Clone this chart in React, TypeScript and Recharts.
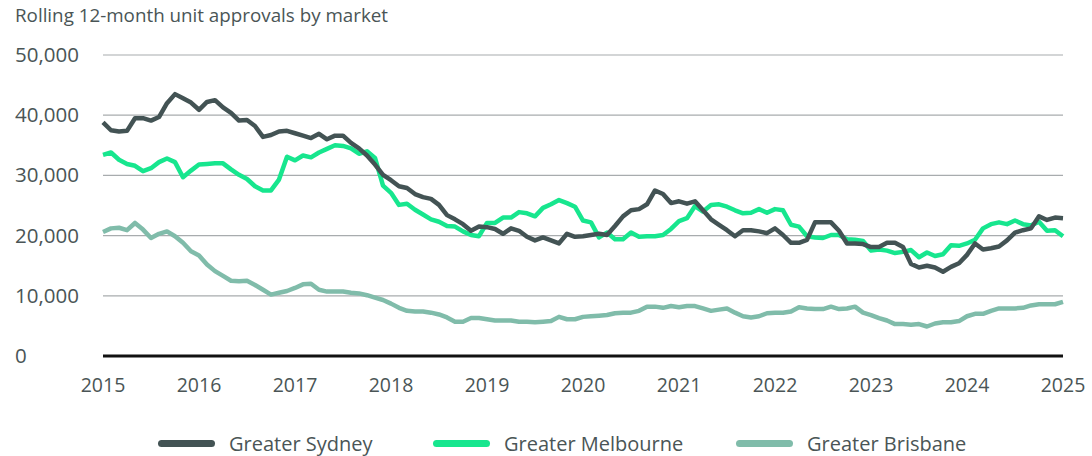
import React from "react";
import { LineChart, Line, XAxis, YAxis, CartesianGrid } from "recharts";

const startYear = 2015;
const yearTicks = [2015, 2016, 2017, 2018, 2019, 2020, 2021, 2022, 2023, 2024, 2025];
const valueTicks = [0, 10000, 20000, 30000, 40000, 50000];

const sydney = [
  38800, 37500, 37300, 37400, 39500, 39500, 39100, 39700, 42000, 43500, 42800, 42100,
  40900, 42200, 42500, 41300, 40400, 39100, 39200, 38200, 36400, 36700, 37300, 37400,
  37000, 36600, 36200, 36900, 36000, 36600, 36600, 35400, 34500, 33300, 31800, 30100,
  29200, 28200, 27900, 26900, 26400, 26100, 25100, 23400, 22700, 21900, 20800, 21500,
  21400, 21100, 20300, 21200, 20800, 19800, 19200, 19700, 19200, 18700, 20300, 19800,
  19900, 20100, 20300, 20100, 21600, 23200, 24200, 24400, 25200, 27500, 26900, 25400,
  25700, 25300, 25700, 24200, 22700, 21800, 20900, 19900, 20900, 20900, 20700, 20400,
  21200, 20100, 18800, 18800, 19300, 22200, 22200, 22200, 20800, 18700, 18700, 18600,
  18100, 18100, 18800, 18800, 18100, 15300, 14700, 15000, 14700, 14000, 14800, 15400,
  16800, 18700, 17700, 17900, 18200, 19200, 20500, 20900, 21200, 23200, 22600, 23000,
  22900,
];

const melbourne = [
  33400, 33800, 32600, 31900, 31600, 30700, 31200, 32200, 32800, 32200, 29700, 30800,
  31800, 31900, 32000, 32000, 31000, 30100, 29400, 28200, 27500, 27500, 29300, 33100,
  32500, 33300, 33000, 33800, 34400, 35000, 34900, 34500, 33600, 34000, 32900, 28300,
  27100, 25100, 25300, 24300, 23500, 22700, 22300, 21600, 21500, 20700, 20100, 19900,
  22100, 22100, 23000, 23000, 23900, 23700, 23200, 24600, 25200, 25900, 25400, 24800,
  22500, 22200, 19700, 20500, 19400, 19400, 20500, 19800, 19900, 19900, 20100, 21100,
  22400, 22900, 24900, 24000, 25100, 25200, 24800, 24200, 23700, 23800, 24400, 23800,
  24400, 24200, 21800, 21500, 19900, 19700, 19600, 20100, 20100, 19400, 19300, 19100,
  17500, 17700, 17500, 17100, 17300, 17600, 16400, 17200, 16600, 16900, 18400, 18300,
  18700, 19300, 21200, 21900, 22200, 21900, 22500, 21900, 21700, 22300, 20800, 20900,
  19900,
];

const brisbane = [
  20600, 21200, 21300, 20900, 22100, 21000, 19600, 20300, 20700, 19900, 18800, 17400,
  16700, 15200, 14100, 13300, 12500, 12400, 12500, 11800, 11000, 10200, 10500, 10800,
  11300, 11900, 12000, 11000, 10700, 10700, 10700, 10500, 10400, 10100, 9700, 9300,
  8700, 8000, 7500, 7400, 7400, 7200, 6900, 6400, 5700, 5700, 6300, 6300,
  6100, 5900, 5900, 5900, 5700, 5700, 5600, 5700, 5800, 6500, 6100, 6100,
  6500, 6600, 6700, 6800, 7100, 7200, 7200, 7500, 8200, 8200, 8000, 8300,
  8100, 8300, 8300, 7900, 7500, 7700, 7900, 7200, 6600, 6400, 6600, 7100,
  7200, 7200, 7400, 8100, 7900, 7800, 7800, 8200, 7800, 7900, 8200, 7200,
  6800, 6300, 5900, 5300, 5300, 5200, 5300, 4900, 5400, 5600, 5600, 5800,
  6600, 7000, 7000, 7500, 7900, 7900, 7900, 8000, 8400, 8600, 8600, 8600,
  9000,
];

const seriesNames = ["Greater Sydney", "Greater Melbourne", "Greater Brisbane"];
const seriesColors = ["#435354", "#17e68e", "#80bcaa"];
const chartTitle = "Rolling 12-month unit approvals by market";

const data = sydney.map((v, i) => ({
  t: startYear + i / 12,
  sydney: v,
  melbourne: melbourne[i],
  brisbane: brisbane[i],
}));

const FONT = "'Open Sans', sans-serif";
const TEXT = "#4a5556";

const YTick = (props: any) => {
  const { y, payload } = props;
  return (
    <text x={15} y={y} dy={7} textAnchor="start" fontFamily={FONT} fontSize={20.5} fill={TEXT}>
      {Number(payload.value).toLocaleString("en-US")}
    </text>
  );
};

const XTick = (props: any) => {
  const { x, payload } = props;
  return (
    <text x={x} y={392} textAnchor="middle" fontFamily={FONT} fontSize={19.5} fill={TEXT}>
      {payload.value}
    </text>
  );
};

const legendLefts = [158, 433, 736];

export default function App() {
  return (
    <div style={{ position: "absolute", left: 0, top: 0, width: 1092, height: 456, background: "#fff" }}>
      <div style={{ position: "absolute", left: 15, top: 2, fontFamily: FONT, fontSize: 18.8, color: TEXT, whiteSpace: "nowrap" }}>
        {chartTitle}
      </div>
      <LineChart width={1092} height={456} data={data} margin={{ top: 55, right: 29, bottom: 70, left: 15 }}>
        <CartesianGrid vertical={false} stroke="#a8acae" strokeWidth={1.2} />
        <XAxis
          dataKey="t"
          type="number"
          domain={[2015, 2025]}
          ticks={yearTicks}
          tick={<XTick />}
          tickLine={false}
          axisLine={{ stroke: "#111", strokeWidth: 3 }}
          height={30}
          interval={0}
        />
        <YAxis
          domain={[0, 50000]}
          ticks={valueTicks}
          tick={<YTick />}
          tickLine={false}
          axisLine={false}
          width={88}
          interval={0}
        />
        <Line type="linear" dataKey="brisbane" stroke={seriesColors[2]} strokeWidth={4.5} dot={false} isAnimationActive={false} strokeLinejoin="round" />
        <Line type="linear" dataKey="melbourne" stroke={seriesColors[1]} strokeWidth={4.5} dot={false} isAnimationActive={false} strokeLinejoin="round" />
        <Line type="linear" dataKey="sydney" stroke={seriesColors[0]} strokeWidth={4.5} dot={false} isAnimationActive={false} strokeLinejoin="round" />
      </LineChart>
      {seriesNames.map((n, i) => (
        <div
          key={n}
          style={{
            position: "absolute",
            left: legendLefts[i],
            top: 429,
            height: 28,
            display: "flex",
            alignItems: "center",
            fontFamily: FONT,
            fontSize: 20,
            color: TEXT,
            whiteSpace: "nowrap",
          }}
        >
          <div style={{ width: 57, height: 7, borderRadius: 4, background: seriesColors[i], marginRight: 14 }} />
          <span>{n}</span>
        </div>
      ))}
    </div>
  );
}
